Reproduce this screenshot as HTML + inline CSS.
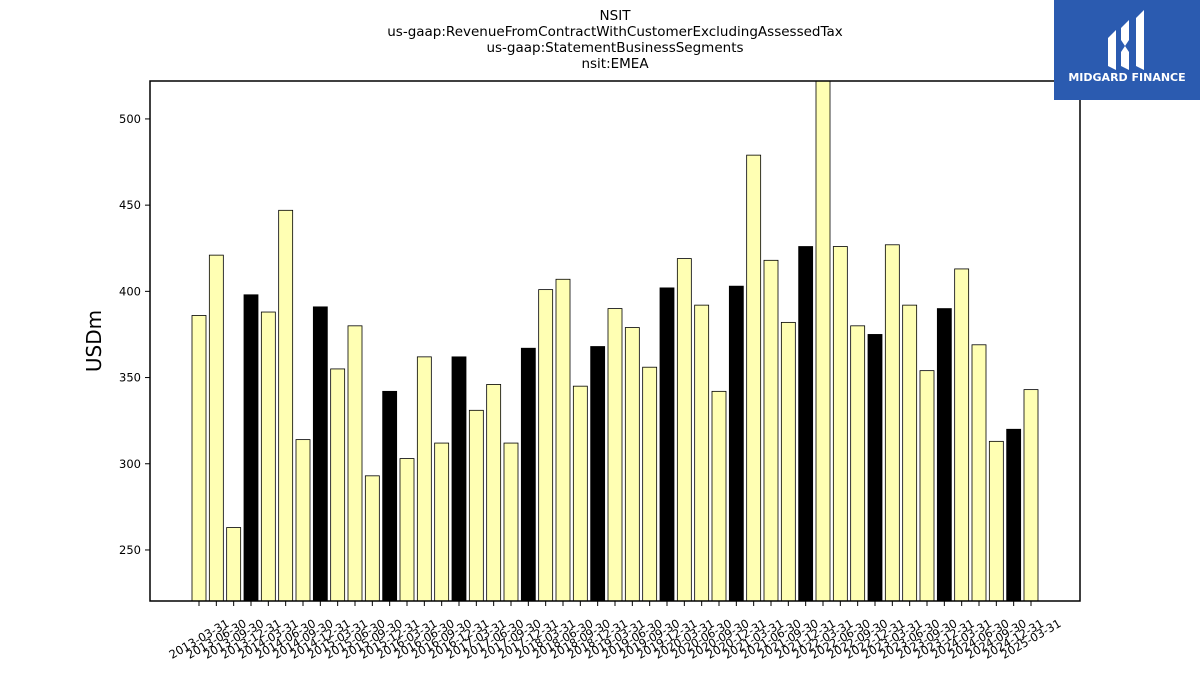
<!DOCTYPE html>
<html><head><meta charset="utf-8"><style>
body{margin:0;background:#fff;font-family:"DejaVu Sans","Liberation Sans",sans-serif}
svg text{font-family:"DejaVu Sans","Liberation Sans",sans-serif}
</style></head><body>
<svg id="c" width="1200" height="675" xmlns="http://www.w3.org/2000/svg">
<rect width="1200" height="675" fill="#fff"/>
<g font-size="13.5" text-anchor="middle" fill="#000">
<text x="615" y="20">NSIT</text>
<text x="615" y="36">us-gaap:RevenueFromContractWithCustomerExcludingAssessedTax</text>
<text x="615" y="52">us-gaap:StatementBusinessSegments</text>
<text x="615" y="68">nsit:EMEA</text>
</g>
<defs><clipPath id="pa"><rect x="150" y="81" width="930" height="520"/></clipPath></defs>
<g id="bars" clip-path="url(#pa)"></g>
<g id="yax"></g><g id="xax"></g>
<rect x="150" y="81" width="930" height="520" fill="none" stroke="#000" stroke-width="1.5"/>
<text x="101" y="341" font-size="20" text-anchor="middle" transform="rotate(-90 101 341)">USDm</text>
<g>
<rect x="1054" y="0" width="146" height="100" fill="#2b5bb0"/>
<path d="M1108 38 L1116 30 L1116 70 L1108 66 Z" fill="#fff"/>
<path d="M1121 28 L1129 20 L1129 40 L1125 46 L1121 40 Z M1121 52 L1125 46 L1129 52 L1129 70 L1121 66 Z" fill="#fff"/>
<path d="M1136 18 L1144 10 L1144 70 L1136 66 Z" fill="#fff"/>
<text x="1127" y="81" font-size="11" font-weight="bold" fill="#fff" text-anchor="middle">MIDGARD FINANCE</text>
</g>
</svg>
<script>
const dates=["2013-03-31","2013-06-30","2013-09-30","2013-12-31","2014-03-31","2014-06-30","2014-09-30","2014-12-31","2015-03-31","2015-06-30","2015-09-30","2015-12-31","2016-03-31","2016-06-30","2016-09-30","2016-12-31","2017-03-31","2017-06-30","2017-09-30","2017-12-31","2018-03-31","2018-06-30","2018-09-30","2018-12-31","2019-03-31","2019-06-30","2019-09-30","2019-12-31","2020-03-31","2020-06-30","2020-09-30","2020-12-31","2021-03-31","2021-06-30","2021-09-30","2021-12-31","2022-03-31","2022-06-30","2022-09-30","2022-12-31","2023-03-31","2023-06-30","2023-09-30","2023-12-31","2024-03-31","2024-06-30","2024-09-30","2024-12-31","2025-03-31"];
const values=[386,421,263,398,388,447,314,391,355,380,293,342,303,362,312,362,331,346,312,367,401,407,345,368,390,379,356,402,419,392,342,403,479,418,382,426,523,426,380,375,427,392,354,390,413,369,313,320,343];
const yTicks=[250,300,350,400,450,500];
const NS="http://www.w3.org/2000/svg";
const y0=220.4,y1=522;
function ys(v){return 601-(v-y0)/(y1-y0)*520;}
function xs(i){return 199+i*(1031-199)/(dates.length-1);}
function mk(t,a,p){const e=document.createElementNS(NS,t);for(const k in a)e.setAttribute(k,a[k]);p.appendChild(e);return e;}
const bars=document.getElementById('bars'),yax=document.getElementById('yax'),xax=document.getElementById('xax');
values.forEach((v,i)=>{
  const q4=dates[i].endsWith('12-31');
  const r=mk('rect',{x:xs(i)-7,y:ys(v),width:14,height:601-ys(v),fill:q4?'#000':'#ffffb3',stroke:'#000','stroke-width':0.8},bars);
  
  
  mk('line',{x1:xs(i),x2:xs(i),y1:601,y2:606,stroke:'#000'},xax);
  const cx=xs(i),cy=639;
  const t=mk('text',{x:cx,y:cy+4,'font-size':11.5,'text-anchor':'middle',transform:`rotate(-30 ${cx} ${cy})`},xax);
  t.textContent=dates[i];
  
  
});
yTicks.forEach(v=>{
  mk('line',{x1:145,x2:150,y1:ys(v),y2:ys(v),stroke:'#000'},yax);
  const t=mk('text',{x:141,y:ys(v)+4,'font-size':11.5,'text-anchor':'end'},yax);
  t.textContent=v;
  
  
});
</script>
</body></html>
